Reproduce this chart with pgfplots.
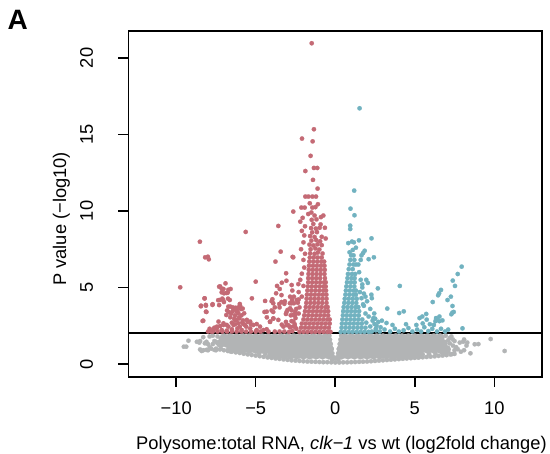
\documentclass[border=0pt]{standalone}
\usepackage{pgfplots}
\pgfplotsset{compat=1.18}
\usepackage{fontspec}
\setmainfont{Liberation Sans}
\definecolor{cred}{RGB}{196,106,117}
\definecolor{cblue}{RGB}{113,178,192}
\definecolor{cgray}{RGB}{178,180,181}
\begin{document}
\begin{tikzpicture}[x=1pt,y=1pt]
\path[use as bounding box] (0,0) rectangle (550,454);
\begin{axis}[
  at={(128.5pt,77pt)}, anchor=south west,
  width=413.5pt, height=346pt, scale only axis,
  xmin=-13, xmax=13, ymin=-0.85, ymax=21.76,
  axis line style={line width=1.6pt},
  xtick={-10,-5,0,5,10}, xticklabels={−10,−5,0,5,10},
  ytick={0,5,10,15,20},
  tick pos=left, tick align=outside, major tick length=10pt,
  tick style={line width=1.5pt, black},
  /pgf/number format/assume math mode=true,
  ticklabel style={font=\fontsize{18.3}{22}\selectfont},
  xticklabel style={anchor=north, inner sep=0pt, yshift=-14.7pt},
  yticklabel style={xshift=-25.2pt, rotate=90, anchor=south, inner sep=0pt},
  xlabel={Polysome:total RNA, \textit{clk−1} vs wt (log2fold change)},
  xlabel style={at={(axis description cs:0.515,0)}, anchor=base, yshift=-73pt, font=\fontsize{18.3}{22}\selectfont},
  ylabel={P value (−log10)},
  ylabel style={at={(axis description cs:-0.162,0.457)}, anchor=center, font=\fontsize{18.3}{22}\selectfont},
  clip=true,
]
% gray core (large dots filling the dense cloud)
\addplot[cgray, only marks, mark=*, mark size=4.3pt, line width=0.2pt] coordinates {
(-7.0,1.72)(-6.6,1.72)(-6.2,1.72)(-5.8,1.72)(-5.4,1.72)(-5.0,1.72)(-4.6,1.72)(-4.2,1.72)(-3.8,1.72)(-3.4,1.72)(-3.0,1.72)(-2.6,1.72)(-2.2,1.72)(-1.8,1.72)(-1.4,1.72)(-1.0,1.72)(-0.6,1.72)
(0.6,1.72)(1.0,1.72)(1.4,1.72)(1.8,1.72)(2.2,1.72)(2.6,1.72)(3.0,1.72)(3.4,1.72)(3.8,1.72)(4.2,1.72)(4.6,1.72)(5.0,1.72)(5.4,1.72)(5.8,1.72)(6.2,1.72)(6.6,1.72)
(-7.2,1.34)(-6.8,1.34)(-6.4,1.34)(-6.0,1.34)(-5.6,1.34)(-5.2,1.34)(-4.8,1.34)(-4.4,1.34)(-4.0,1.34)(-3.6,1.34)(-3.2,1.34)(-2.8,1.34)(-2.4,1.34)(-2.0,1.34)(-1.6,1.34)(-1.2,1.34)(-0.8,1.34)(-0.45,1.34)
(0.45,1.34)(0.8,1.34)(1.2,1.34)(1.6,1.34)(2.0,1.34)(2.4,1.34)(2.8,1.34)(3.2,1.34)(3.6,1.34)(4.0,1.34)(4.4,1.34)(4.8,1.34)(5.2,1.34)(5.6,1.34)(6.0,1.34)(6.4,1.34)(6.8,1.34)
(-6.6,0.96)(-6.2,0.96)(-5.8,0.96)(-5.4,0.96)(-5.0,0.96)(-4.6,0.96)(-4.2,0.96)(-3.8,0.96)(-3.4,0.96)(-3.0,0.96)(-2.6,0.96)(-2.2,0.96)(-1.8,0.96)(-1.4,0.96)(-1.0,0.96)(-0.6,0.96)(-0.36,0.96)
(0.36,0.96)(0.6,0.96)(1.0,0.96)(1.4,0.96)(1.8,0.96)(2.2,0.96)(2.6,0.96)(3.0,0.96)(3.4,0.96)(3.8,0.96)(4.2,0.96)(4.6,0.96)(5.0,0.96)(5.4,0.96)(5.8,0.96)(6.2,0.96)(6.6,0.96)(7.0,0.96)
(-4.0,0.58)(-3.6,0.58)(-3.2,0.58)(-2.8,0.58)(-2.4,0.58)(-2.0,0.58)(-1.6,0.58)(-1.2,0.58)(-0.8,0.58)(-0.4,0.58)
(0.4,0.58)(0.8,0.58)(1.2,0.58)(1.6,0.58)(2.0,0.58)(2.4,0.58)(2.8,0.58)(3.2,0.58)(3.6,0.58)(4.0,0.58)(4.4,0.58)(4.8,0.58)(5.2,0.58)
};
% gray small dots (edges and outliers)
\addplot[cgray, only marks, mark=*, mark size=2.2pt, line width=0.2pt] coordinates {
(-7.5,1.0)(-7.25,0.95)(-7.0,0.9)(-6.75,0.85)(-6.5,0.8)(-6.25,0.76)(-6.0,0.72)(-5.75,0.67)(-5.5,0.63)(-5.25,0.59)(-5.0,0.55)(-4.75,0.51)(-4.5,0.47)(-4.25,0.43)(-4.0,0.4)(-3.75,0.36)(-3.5,0.33)(-3.25,0.3)(-3.0,0.27)(-2.75,0.24)(-2.5,0.22)(-2.25,0.2)(-2.0,0.18)(-1.75,0.16)(-1.5,0.15)(-1.25,0.14)(-1.0,0.13)(-0.75,0.12)(-0.5,0.12)(-0.25,0.11)(0,0.1)
(0.25,0.1)(0.5,0.11)(0.75,0.11)(1.0,0.12)(1.25,0.13)(1.5,0.14)(1.75,0.15)(2.0,0.16)(2.25,0.18)(2.5,0.2)(2.75,0.22)(3.0,0.24)(3.25,0.26)(3.5,0.28)(3.75,0.3)(4.0,0.32)(4.25,0.34)(4.5,0.36)(4.75,0.38)(5.0,0.4)(5.25,0.42)(5.5,0.44)(5.75,0.46)(6.0,0.48)(6.25,0.5)(6.5,0.53)(6.75,0.55)(7.0,0.58)(7.25,0.62)(7.5,0.66)
(-0.18,0.7)(0.18,0.7)(-0.23,1.0)(0.23,1.0)(-0.28,1.3)(0.28,1.3)(-0.33,1.6)(0.33,1.6)(-0.37,1.85)(0.37,1.85)(0,0.35)(-0.12,0.45)(0.12,0.45)(-0.2,0.28)(0.2,0.28)
(5.5,0.62)(5.9,0.66)(6.3,0.7)(6.7,0.75)(7.1,0.8)(-4.4,0.66)(-4.8,0.72)
(-9.52,1.13)(-9.37,1.13)(-9.23,1.52)(-8.7,1.45)(-8.5,1.5)(-8.55,1.4)(-8.5,0.95)(-8.3,0.9)(-8.0,0.9)(-7.9,1.1)(-8.2,1.35)(-8.0,1.3)(-7.7,1.3)(-7.5,1.45)(-7.3,1.25)(-7.5,0.9)(-7.2,1.0)(-8.4,0.85)(-8.1,0.92)(-7.8,1.0)(-7.6,0.92)(-8.1,1.45)(-7.6,1.5)(-7.4,1.35)(-7.9,1.8)(-7.7,1.85)(-8.3,1.75)(-7.4,1.8)(-7.2,1.65)
(10.65,0.85)(9.77,1.63)(8.77,1.29)(8.5,0.7)(8.04,1.45)(7.83,1.4)(7.6,1.1)(7.7,0.97)(7.2,1.35)(7.4,1.2)(6.9,0.7)(7.0,0.85)(8.25,1.2)(8.1,1.6)(9.0,1.3)(8.3,1.4)(7.9,0.8)(8.1,0.9)(7.5,0.9)(7.3,1.8)(7.4,1.6)(7.2,1.7)(7.5,1.5)(7.35,0.65)(6.95,1.85)(7.1,1.55)
};
% red (down)
\addplot[cred, only marks, mark=*, mark size=2.2pt, line width=0.2pt] coordinates {
(-2.25,2.1)(-2.0,2.1)(-1.75,2.1)(-1.5,2.1)(-1.25,2.1)(-1.0,2.1)(-0.75,2.1)(-0.5,2.1)(-0.3,2.1)
(-2.15,2.37)(-1.9,2.37)(-1.65,2.37)(-1.4,2.37)(-1.15,2.37)(-0.9,2.37)(-0.65,2.37)(-0.4,2.37)
(-2.1,2.64)(-1.85,2.64)(-1.6,2.64)(-1.35,2.64)(-1.1,2.64)(-0.85,2.64)(-0.6,2.64)(-0.35,2.64)
(-2.0,2.91)(-1.75,2.91)(-1.5,2.91)(-1.25,2.91)(-1.0,2.91)(-0.75,2.91)(-0.5,2.91)(-0.35,2.91)
(-1.95,3.18)(-1.7,3.18)(-1.45,3.18)(-1.2,3.18)(-0.95,3.18)(-0.7,3.18)(-0.45,3.18)
(-1.9,3.45)(-1.65,3.45)(-1.4,3.45)(-1.15,3.45)(-0.9,3.45)(-0.65,3.45)(-0.45,3.45)
(-1.85,3.72)(-1.6,3.72)(-1.35,3.72)(-1.1,3.72)(-0.85,3.72)(-0.6,3.72)(-0.48,3.72)
(-1.82,3.99)(-1.57,3.99)(-1.32,3.99)(-1.07,3.99)(-0.82,3.99)(-0.55,3.99)
(-1.8,4.26)(-1.55,4.26)(-1.3,4.26)(-1.05,4.26)(-0.8,4.26)(-0.55,4.26)
(-1.78,4.53)(-1.53,4.53)(-1.28,4.53)(-1.03,4.53)(-0.78,4.53)(-0.56,4.53)
(-1.75,4.8)(-1.5,4.8)(-1.25,4.8)(-1.0,4.8)(-0.75,4.8)(-0.58,4.8)
(-1.72,5.07)(-1.47,5.07)(-1.22,5.07)(-0.97,5.07)(-0.72,5.07)(-0.6,5.07)
(-1.7,5.34)(-1.45,5.34)(-1.2,5.34)(-0.95,5.34)(-0.7,5.34)(-0.6,5.34)
(-1.7,5.61)(-1.45,5.61)(-1.2,5.61)(-0.95,5.61)(-0.65,5.61)
(-1.68,5.88)(-1.43,5.88)(-1.18,5.88)(-0.93,5.88)(-0.68,5.88)
(-1.66,6.15)(-1.41,6.15)(-1.16,6.15)(-0.91,6.15)(-0.66,6.15)
(-1.65,6.42)(-1.4,6.42)(-1.15,6.42)(-0.9,6.42)(-0.68,6.42)
(-1.63,6.69)(-1.38,6.69)(-1.13,6.69)(-0.88,6.69)(-0.7,6.69)
(-1.6,6.96)(-1.35,6.96)(-1.1,6.96)(-0.85,6.96)
(-1.58,7.23)(-1.3,7.2)(-1.1,7.28)(-0.8,7.22)
(-1.55,7.5)(-1.25,7.55)(-1.0,7.48)
(-1.62,7.8)(-1.38,7.75)(-1.12,7.82)(-0.85,7.77)
(-1.5,8.06)(-1.2,8.1)(-0.95,8.02)
(-1.58,8.36)(-1.3,8.3)(-0.85,8.31)
(-1.45,8.6)(-1.15,8.62)
(-1.52,8.88)(-1.22,8.85)(-0.98,8.9)
(-1.38,9.15)(-0.92,9.12)
(-1.48,9.42)(-1.18,9.45)
(-2.2,9.3)(-2.05,9.55)(-1.9,9.0)(-2.1,8.7)(-1.95,8.4)(-2.0,7.95)(-2.15,7.5)(-1.9,7.2)(-2.0,6.8)(-1.95,6.3)(-2.1,5.9)(-2.2,5.5)(-2.0,5.1)(-2.3,4.7)(-2.1,4.4)(-2.35,4.0)(-2.45,3.6)(-2.3,3.3)(-2.5,3.0)(-2.55,2.6)(-2.45,2.3)(-2.7,2.15)(-2.6,2.45)(-2.75,2.8)(-2.65,3.2)(-2.85,2.4)(-2.9,2.1)
(-0.75,9.7)(-0.65,8.9)(-0.6,8.2)(-0.9,9.6)(-1.7,9.8)(-1.5,9.9)(-1.3,9.7)(-1.6,10.5)
(-1.48,20.96)(-1.34,15.34)(-2.09,14.73)(-1.42,14.55)(-1.55,13.6)(-1.88,12.61)(-1.34,12.81)(-1.13,12.81)(-1.4,12.03)(-1.11,11.46)(-1.88,10.94)(-1.69,10.94)(-1.44,10.94)(-1.21,10.94)(-2.13,10.22)(-1.92,10.22)(-1.44,10.22)(-1.25,10.25)(-1.09,10.44)(-2.64,9.96)
(-9.75,5.01)(-8.51,7.99)(-8.18,6.97)(-8.01,7.01)(-7.95,6.84)(-5.63,8.63)(-3.58,9.02)(-3.43,7.34)(-3.76,6.69)(-2.64,6.97)(-3.09,5.93)(-5.0,5.38)(-3.36,5.31)(-3.07,5.44)(-2.74,5.16)(-2.32,5.22)(-2.68,7.0)(-2.7,4.8)(-2.6,4.4)
(-6.9,5.27)(-7.24,5.07)(-7.03,4.9)(-6.72,4.85)(-6.58,4.9)(-7.14,4.68)(-6.82,4.64)(-8.21,4.29)(-7.26,4.18)(-7.05,4.18)(-6.63,4.18)(-8.44,3.81)(-8.13,3.81)(-7.71,3.91)(-6.0,3.92)(-6.1,3.7)(-5.93,3.59)(-6.4,3.6)(-6.27,3.67)(-6.7,3.4)(-6.8,3.5)(-6.55,3.29)(-6.3,3.18)(-6.1,3.33)(-5.9,3.18)(-8.1,3.4)(-8.3,2.83)(-7.03,2.66)(-6.82,2.55)(-6.2,2.88)(-6.1,2.66)(-6.0,2.44)(-5.68,2.55)
(-6.6,3.75)(-6.45,3.45)(-6.2,3.45)(-6.85,3.2)(-6.6,3.05)(-6.35,2.95)(-6.05,3.05)(-5.8,2.85)(-6.5,2.7)(-5.85,2.7)(-6.3,2.6)(-5.5,2.75)(-5.3,2.6)
(-7.34,2.77)(-7.44,2.44)(-7.66,2.27)(-7.9,2.3)(-7.8,2.12)(-7.6,2.37)
(-7.3,5.05)(-7.14,4.92)(-6.76,4.66)(-6.99,4.62)(-8.22,4.29)(-8.14,3.86)(-8.45,3.77)(-8.13,3.42)(-8.34,2.81)(-7.72,3.86)(-7.36,4.17)(-7.3,3.85)(-7.1,4.27)(-7.0,4.05)(-6.74,4.27)
(-6.72,3.75)(-6.44,3.7)(-6.19,3.53)(-5.98,3.79)(-5.82,3.62)(-5.73,3.31)(-6.03,2.98)(-6.3,2.88)(-5.56,2.88)(-5.77,2.61)(-5.35,2.77)(-5.15,2.55)(-4.94,2.61)(-4.73,2.44)(-4.52,2.22)(-4.31,2.27)(-4.94,2.22)(-5.35,2.33)(-5.6,2.44)(-5.88,2.22)(-6.15,2.33)(-6.5,2.27)(-6.82,2.18)(-7.14,2.22)(-7.45,2.33)(-7.66,2.22)(-6.4,2.55)(-6.72,2.44)(-7.03,2.55)(-7.24,2.48)
(-8.0,2.12)(-7.7,2.12)(-7.4,2.12)(-7.1,2.12)(-6.8,2.12)(-6.5,2.12)(-6.2,2.12)(-5.9,2.12)(-5.6,2.12)(-5.3,2.12)(-5.0,2.12)(-4.7,2.12)(-4.2,2.12)(-3.8,2.12)(-3.5,2.12)(-3.2,2.12)
(-5.24,4.29)(-3.66,5.1)(-3.49,4.9)(-3.38,4.5)(-3.38,4.05)(-3.17,4.1)(-3.52,3.92)(-4.0,4.1)(-2.72,4.18)(-2.3,4.22)(-3.9,3.4)(-3.06,3.4)(-2.74,3.5)(-2.52,3.4)(-2.25,3.7)
(-4.41,4.12)(-3.95,4.23)(-3.72,4.62)(-3.9,3.97)(-3.5,3.7)(-3.2,3.93)(-2.85,3.97)(-3.0,3.53)(-2.6,3.97)(-3.1,3.27)(-2.8,3.18)(-4.45,3.4)(-4.3,3.05)(-4.1,2.75)(-3.9,2.96)(-3.36,2.57)(-3.1,2.75)(-2.95,2.53)(-2.8,2.42)
(-3.89,2.98)(-4.1,2.77)(-3.58,2.88)(-3.26,2.44)(-3.05,2.55)(-2.64,2.77)(-2.53,3.2)(-2.53,2.44)(-2.84,3.64)(-2.74,3.97)(-2.42,4.18)(-2.84,4.4)(-4.31,3.42)(-4.0,3.5)(-3.8,3.7)
};
% blue (up)
\addplot[cblue, only marks, mark=*, mark size=2.2pt, line width=0.2pt] coordinates {
(0.35,2.1)(0.6,2.1)(0.85,2.1)(1.1,2.1)(1.35,2.1)(1.6,2.1)(1.85,2.1)(2.1,2.1)
(0.4,2.37)(0.65,2.37)(0.9,2.37)(1.15,2.37)(1.4,2.37)(1.65,2.37)(1.9,2.37)
(0.42,2.64)(0.67,2.64)(0.92,2.64)(1.17,2.64)(1.42,2.64)(1.67,2.64)
(0.45,2.91)(0.7,2.91)(0.95,2.91)(1.2,2.91)(1.45,2.91)(1.7,2.91)
(0.48,3.18)(0.73,3.18)(0.98,3.18)(1.23,3.18)(1.48,3.18)
(0.5,3.45)(0.75,3.45)(1.0,3.45)(1.25,3.45)(1.5,3.45)
(0.53,3.72)(0.78,3.72)(1.03,3.72)(1.28,3.72)(1.45,3.72)
(0.57,3.99)(0.82,3.99)(1.07,3.99)(1.32,3.99)
(0.6,4.26)(0.85,4.26)(1.1,4.26)(1.35,4.26)
(0.64,4.53)(0.89,4.53)(1.14,4.53)(1.3,4.53)
(0.67,4.8)(0.92,4.8)(1.17,4.8)(1.3,4.8)
(0.7,5.07)(0.95,5.07)(1.2,5.07)
(0.74,5.34)(0.99,5.34)(1.22,5.34)
(0.77,5.61)(1.02,5.61)(1.22,5.61)
(0.8,5.88)(1.05,5.88)(1.25,5.88)
(0.85,6.2)(1.1,6.2)(0.9,6.5)(1.15,6.5)(1.3,6.5)(0.95,6.8)(1.2,6.8)(1.0,7.1)(1.15,7.1)
(1.5,6.0)(1.6,5.5)(1.7,5.0)(1.55,4.7)(1.65,4.3)(1.8,3.8)(1.9,4.4)(1.45,6.5)(1.6,6.8)
(1.53,16.71)(1.19,11.33)(0.96,10.15)(1.21,9.72)(0.94,9.04)(0.94,8.82)(2.28,8.21)(1.49,8.08)(0.82,7.9)(1.05,8.0)(1.17,7.95)(2.43,6.97)(1.85,7.4)(1.75,7.25)(1.65,7.1)(2.1,6.85)(1.1,7.45)(0.9,7.3)(1.3,7.6)
(2.68,4.94)(2.27,4.53)(1.8,4.6)(2.0,4.1)(2.2,3.6)(1.9,3.3)(2.4,3.0)(2.6,2.5)(2.2,2.45)(1.95,2.7)(2.1,3.1)(1.75,3.9)(1.7,5.2)(1.95,5.5)(2.05,5.3)(2.3,4.3)(2.45,3.3)(2.7,2.75)(2.55,2.2)(2.85,2.4)
(7.95,6.36)(7.7,5.88)(7.39,5.45)(7.53,5.1)(6.65,4.84)(6.53,4.62)(6.47,4.49)(7.27,4.4)(7.06,4.18)(7.37,3.79)(7.45,3.4)(7.37,3.36)(7.3,3.25)(6.13,4.05)(4.06,5.1)(3.27,3.62)(4.02,3.33)(4.31,3.44)(5.72,3.27)(5.47,3.1)(5.3,3.0)(6.34,3.0)(6.44,2.9)(6.55,2.8)(6.3,2.8)(6.74,2.85)(2.93,2.83)(3.22,2.68)(2.51,2.96)(2.35,2.83)(2.47,2.61)(8.0,2.33)
(2.3,2.12)(2.55,2.3)(2.8,2.12)(3.1,2.25)(3.45,2.12)(3.75,2.3)(4.0,2.12)(4.3,2.2)(4.6,2.35)(4.85,2.12)(5.15,2.25)(5.4,2.12)(5.6,2.4)(5.85,2.15)(6.1,2.3)(6.4,2.12)(6.65,2.3)(6.9,2.12)(7.1,2.25)(5.5,2.65)(5.75,2.9)(5.95,2.6)(6.2,2.55)(4.45,2.6)(3.6,2.55)(5.1,2.55)(6.55,3.1)
};
\addplot[black, line width=1.8pt, forget plot] coordinates {(-13,2) (13,2)};
\end{axis}
\node[anchor=base west, inner sep=0pt, font=\fontsize{28}{30}\selectfont\bfseries] at (7.5,424) {A};
\end{tikzpicture}
\end{document}
